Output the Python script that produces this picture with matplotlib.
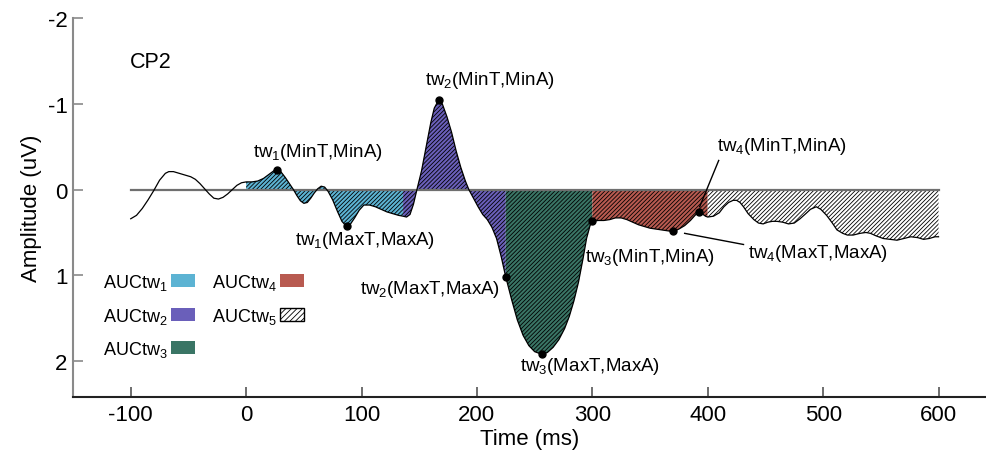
import matplotlib
matplotlib.use("Agg")
import matplotlib.pyplot as plt
import numpy as np
from matplotlib.patches import Patch

plt.rcParams["font.family"] = ["Liberation Sans", "DejaVu Sans"]
plt.rcParams["mathtext.fontset"] = "custom"
plt.rcParams["mathtext.rm"] = "Liberation Sans"
plt.rcParams["mathtext.it"] = "Liberation Sans:italic"
plt.rcParams["hatch.linewidth"] = 0.6

# ERP waveform at CP2 (time in ms, amplitude in uV, negative up)
time_ms = [
    -100, -95, -90, -85, -80, -75, -70, -67, -63, -58, -53, -48, -44, -40, -36, -32,
    -28, -24, -20, -16, -12, -8, -4, 0, 5, 10, 15, 20, 24, 27, 30, 34, 38, 41, 44,
    47, 50, 53, 56, 59, 62, 65, 68, 71, 75, 79, 83, 87, 90, 94, 98, 102, 107, 112,
    117, 122, 127, 132, 136, 139, 142, 145, 148, 152, 156, 160, 163, 167, 170, 174,
    178, 182, 186, 190, 193, 197, 201, 205, 209, 213, 217, 221, 225, 230, 235, 240,
    245, 250, 256, 261, 266, 271, 276, 280, 284, 288, 292, 295, 298, 300, 305, 310,
    315, 320, 325, 330, 335, 340, 345, 350, 355, 360, 365, 370, 375, 380, 385, 389,
    392, 395, 398, 400, 405, 410, 414, 418, 422, 425, 428, 431, 435, 440, 444, 448,
    452, 456, 460, 465, 470, 475, 480, 485, 489, 494, 498, 503, 508, 512, 517, 521,
    526, 532, 537, 541, 546, 552, 558, 564, 570, 576, 582, 587, 592, 597, 600,
]
amp_uv = [
    0.34, 0.30, 0.22, 0.12, 0.01, -0.11, -0.19, -0.21, -0.21, -0.19, -0.17, -0.15,
    -0.12, -0.07, -0.01, 0.05, 0.10, 0.11, 0.09, 0.05, 0.00, -0.05, -0.08, -0.09,
    -0.09, -0.10, -0.13, -0.18, -0.22, -0.23, -0.21, -0.14, -0.06, 0.00, 0.07, 0.13,
    0.16, 0.15, 0.10, 0.04, -0.01, -0.04, -0.03, 0.02, 0.12, 0.25, 0.37, 0.43, 0.41,
    0.33, 0.24, 0.18, 0.18, 0.20, 0.23, 0.26, 0.28, 0.30, 0.31, 0.32, 0.29, 0.17,
    0.00, -0.22, -0.50, -0.78, -0.95, -1.05, -1.00, -0.85, -0.67, -0.45, -0.26, -0.10,
    0.00, 0.10, 0.20, 0.29, 0.35, 0.44, 0.57, 0.78, 1.02, 1.28, 1.52, 1.70, 1.82,
    1.89, 1.92, 1.90, 1.84, 1.75, 1.62, 1.48, 1.30, 1.08, 0.80, 0.57, 0.42, 0.37,
    0.36, 0.36, 0.35, 0.33, 0.33, 0.35, 0.38, 0.41, 0.43, 0.45, 0.46, 0.47, 0.48,
    0.49, 0.46, 0.42, 0.36, 0.30, 0.26, 0.28, 0.31, 0.32, 0.31, 0.27, 0.20, 0.15,
    0.125, 0.125, 0.15, 0.20, 0.28, 0.35, 0.39, 0.40, 0.38, 0.37, 0.37, 0.38, 0.40,
    0.39, 0.34, 0.28, 0.23, 0.20, 0.23, 0.30, 0.39, 0.47, 0.51, 0.53, 0.53, 0.51,
    0.50, 0.51, 0.54, 0.57, 0.58, 0.59, 0.57, 0.55, 0.56, 0.58, 0.57, 0.55, 0.55,
]

# time windows and their colours
window_edges = [0, 136, 225, 300, 400, 600]
window_names = ["AUCtw$_{\\mathrm{1}}$", "AUCtw$_{\\mathrm{2}}$", "AUCtw$_{\\mathrm{3}}$",
                "AUCtw$_{\\mathrm{4}}$", "AUCtw$_{\\mathrm{5}}$"]
window_colors = ["#5cb3d3", "#6a5fba", "#3a7565", "#b85a50", "white"]

# (time, amplitude) of marked extrema
peak_t = [27, 87, 167, 225, 256, 300, 370, 392]
peak_a = [-0.23, 0.43, -1.05, 1.02, 1.92, 0.365, 0.486, 0.26]

t = np.array(time_ms, dtype=float)
a = np.array(amp_uv, dtype=float)

fig = plt.figure(figsize=(9.87, 4.56), dpi=100)
ax = fig.add_axes([0.074, 0.127, 0.926, 0.831])

# 各时间窗的面积
for i in range(5):
    lo, hi = window_edges[i], window_edges[i + 1]
    m = (t >= lo) & (t <= hi)
    ax.fill_between(t, a, 0, where=m, facecolor=window_colors[i], edgecolor="black",
                    linewidth=0, hatch="////////", zorder=2)

ax.plot([-100, 600], [0, 0], color="#6f6f6f", lw=1.6, zorder=3)
ax.plot(t, a, color="black", lw=0.9, zorder=4)
ax.plot(peak_t, peak_a, "o", color="black", ms=5, zorder=5)

# leader lines for tw4
ax.plot([393, 409.5], [0.2, -0.34], color="black", lw=1.0, zorder=5)
ax.plot([380, 431], [0.51, 0.64], color="black", lw=1.0, zorder=5)

fs = 13.5
ax.text(-100.5, -1.5, "CP2", fontsize=15.5, va="center", ha="left")
ax.text(6, -0.44, "tw$_{\\mathrm{1}}$(MinT,MinA)", fontsize=fs, va="center")
ax.text(42, 0.58, "tw$_{\\mathrm{1}}$(MaxT,MaxA)", fontsize=fs, va="center")
ax.text(155, -1.29, "tw$_{\\mathrm{2}}$(MinT,MinA)", fontsize=fs, va="center")
ax.text(99, 1.15, "tw$_{\\mathrm{2}}$(MaxT,MaxA)", fontsize=fs, va="center")
ax.text(237, 2.05, "tw$_{\\mathrm{3}}$(MaxT,MaxA)", fontsize=fs, va="center")
ax.text(294, 0.78, "tw$_{\\mathrm{3}}$(MinT,MinA)", fontsize=fs, va="center")
ax.text(408, -0.52, "tw$_{\\mathrm{4}}$(MinT,MinA)", fontsize=fs, va="center")
ax.text(435, 0.73, "tw$_{\\mathrm{4}}$(MaxT,MaxA)", fontsize=fs, va="center")

handles = []
for i in range(5):
    if i < 4:
        handles.append(Patch(facecolor=window_colors[i], edgecolor="none", label=window_names[i]))
    else:
        handles.append(Patch(facecolor="white", edgecolor="black", hatch="//////",
                             linewidth=1.0, label=window_names[i]))
ax.legend(handles=handles, ncol=2, markerfirst=False, frameon=False, fontsize=13,
          loc="upper left", bbox_to_anchor=(0.033, 0.33), borderaxespad=0, borderpad=0,
          handlelength=1.3, handleheight=0.75, handletextpad=0.2, columnspacing=0.95,
          labelspacing=0.75)

ax.set_xlim(-150, 642)
ax.set_ylim(2.42, -2)
ax.set_xticks([-100, 0, 100, 200, 300, 400, 500, 600])
ax.set_yticks([-2, -1, 0, 1, 2])
ax.set_yticklabels(["-2", "-1", "0", "1", "2"])
ax.set_xticklabels(["-100", "0", "100", "200", "300", "400", "500", "600"])

for s in ["top", "right"]:
    ax.spines[s].set_visible(False)
ax.spines["left"].set_color("#8a8a8a")
ax.spines["left"].set_linewidth(1.5)
ax.spines["left"].set_bounds(-2, 2.42)
ax.spines["bottom"].set_color("#222222")
ax.spines["bottom"].set_linewidth(1.5)
ax.tick_params(axis="y", direction="in", length=7, width=1.2, color="#8a8a8a",
               labelsize=16, pad=4)
ax.tick_params(axis="x", direction="in", length=7, width=1.2, color="#555555",
               labelsize=16, pad=5)
ax.set_xlabel("Time (ms)", fontsize=16, labelpad=2)
ax.set_ylabel("Amplitude (uV)", fontsize=16, labelpad=4)

fig.savefig("out.png", dpi=100)
